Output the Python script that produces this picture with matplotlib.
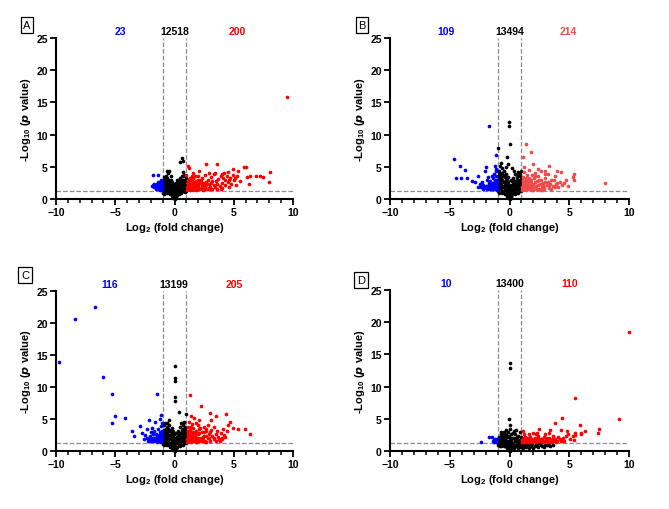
import matplotlib
matplotlib.use('Agg')
import matplotlib.pyplot as plt
import numpy as np

plt.rcParams['font.family'] = ['Liberation Sans', 'DejaVu Sans']
plt.rcParams['mathtext.fontset'] = 'custom'
plt.rcParams['mathtext.rm'] = 'Liberation Sans:bold'
plt.rcParams['mathtext.it'] = 'Liberation Sans:bold:italic'
plt.rcParams['mathtext.bf'] = 'Liberation Sans:bold'

# --- Panel A ---
a_down = [(-1.8, 3.7), (-1.4, 3.7), (-1.9, 2.0), (-1.7, 1.8), (-1.6, 2.2), (-1.5, 2.4), (-1.4, 2.0),
          (-1.3, 1.6), (-1.2, 2.6), (-1.1, 1.9), (-1.2, 1.5), (-1.3, 2.2), (-1.1, 2.3), (-1.5, 1.7),
          (-1.2, 2.0), (-1.1, 1.6), (-1.4, 2.6), (-1.05, 2.8), (-1.6, 1.6), (-1.3, 1.9), (-1.1, 1.4),
          (-1.7, 2.3), (-1.25, 1.4), (-1.05, 2.0), (-1.15, 2.2), (-1.2, 1.7), (-1.35, 1.5), (-1.45, 1.9),
          (-1.05, 1.5), (-1.25, 2.4), (-1.55, 1.9), (-1.15, 3.0), (-1.8, 2.1)]
a_ns = [(-0.95, 1.0), (-0.9, 1.5), (-0.9, 2.0), (-0.85, 2.5), (-0.9, 3.0), (-0.8, 1.2), (-0.75, 1.8),
        (-0.7, 2.3), (-0.7, 2.8), (-0.65, 3.3), (-0.6, 4.3), (-0.55, 4.0), (-0.6, 1.0), (-0.55, 1.5),
        (-0.5, 2.0), (-0.5, 2.6), (-0.45, 3.0), (-0.4, 0.8), (-0.4, 1.3), (-0.35, 1.8), (-0.3, 2.3),
        (-0.3, 2.9), (-0.25, 0.5), (-0.2, 1.0), (-0.2, 1.6), (-0.15, 2.1), (-0.1, 0.2), (-0.1, 0.7),
        (-0.05, 1.3), (0.0, 0.0), (0.0, 0.5), (0.0, 1.0), (0.05, 1.6), (0.1, 0.3), (0.1, 0.8),
        (0.15, 2.0), (0.2, 1.2), (0.25, 0.6), (0.3, 1.7), (0.3, 2.4), (0.35, 1.0), (0.4, 2.8),
        (0.45, 1.4), (0.5, 2.0), (0.5, 3.2), (0.55, 1.0), (0.6, 2.5), (0.6, 3.6), (0.65, 1.6),
        (0.7, 4.2), (0.7, 2.0), (0.75, 3.0), (0.8, 1.3), (0.8, 2.4), (0.85, 3.5), (0.9, 1.8),
        (0.9, 2.8), (0.95, 1.2), (0.95, 3.2), (0.5, 5.8), (0.65, 6.3), (0.7, 5.9), (-0.5, 4.4),
        (-0.3, 3.5), (0.2, 3.0), (0.1, 2.5), (-0.05, 2.3), (-0.75, 3.6), (-0.85, 0.8),
        (-0.95, 1.6), (-0.95, 2.4), (-0.8, 2.1), (-0.8, 2.8), (-0.65, 1.2), (-0.6, 2.0), (-0.6, 2.7),
        (-0.45, 1.6), (-0.45, 2.3), (-0.35, 1.0), (-0.25, 1.3), (-0.25, 2.0), (-0.15, 0.4), (-0.15, 1.7),
        (0.05, 0.2), (0.05, 2.0), (0.15, 1.0), (0.2, 1.7), (0.25, 2.4), (0.35, 1.4), (0.4, 0.7),
        (0.4, 2.0), (0.55, 1.6), (0.65, 2.2), (0.7, 1.2), (0.75, 2.6), (0.85, 1.6), (0.85, 2.2),
        (0.9, 1.1), (0.95, 2.0), (-0.85, 1.2), (-0.7, 1.5), (-0.55, 2.4), (-0.35, 2.6), (0.45, 2.5),
        (0.6, 3.0), (0.8, 3.8), (-0.9, 3.4), (-0.2, 2.7), (0.3, 3.0)]
a_up = [(1.05, 1.4), (1.1, 1.8), (1.1, 2.3), (1.15, 2.8), (1.2, 1.5), (1.25, 2.0), (1.3, 3.2), (1.3, 1.4),
        (1.4, 2.4), (1.45, 1.7), (1.5, 2.9), (1.55, 1.4), (1.6, 2.1), (1.7, 1.6), (1.7, 3.5), (1.75, 2.6),
        (1.8, 1.4), (1.9, 1.9), (1.95, 3.0), (2.0, 2.3), (2.05, 1.5), (2.1, 4.4), (2.15, 2.7), (2.2, 1.7),
        (2.3, 2.1), (2.35, 3.3), (2.4, 1.4), (2.5, 2.5), (2.55, 1.8), (2.6, 3.8), (2.7, 5.4), (2.7, 2.2),
        (2.8, 1.5), (2.85, 2.9), (2.9, 4.1), (3.0, 1.9), (3.05, 2.5), (3.1, 3.4), (3.2, 1.5), (3.3, 3.9),
        (3.35, 2.2), (3.5, 2.8), (3.55, 1.6), (3.6, 5.4), (3.7, 3.1), (3.8, 2.0), (3.9, 3.6), (4.0, 2.5),
        (4.05, 1.7), (4.1, 3.3), (4.2, 4.0), (4.25, 2.2), (4.3, 2.9), (4.4, 3.6), (4.5, 4.2), (4.5, 2.6),
        (4.6, 1.9), (4.7, 3.2), (4.8, 2.4), (4.9, 4.6), (4.9, 3.7), (5.0, 2.9), (5.1, 3.3), (5.2, 2.1),
        (5.3, 3.6), (5.4, 4.3), (5.5, 2.8), (5.9, 4.9), (6.0, 4.9), (6.1, 3.4), (6.3, 2.4), (6.4, 3.6),
        (6.9, 3.6), (7.2, 3.5), (7.5, 3.4), (8.0, 2.7), (8.1, 4.2), (9.5, 15.9), (1.0, 3.8), (1.2, 4.8),
        (1.1, 5.2), (1.6, 4.1), (1.35, 1.6), (1.65, 2.5), (1.85, 2.2), (2.25, 2.6), (2.45, 2.0),
        (3.4, 4.1), (4.6, 3.0), (4.0, 3.9),
        (1.05, 1.9), (1.1, 2.6), (1.15, 1.6), (1.2, 3.1), (1.25, 2.4), (1.35, 1.9), (1.4, 2.8),
        (1.5, 1.5), (1.55, 2.4), (1.6, 3.2), (1.65, 1.8), (1.8, 1.8), (1.8, 2.8), (1.9, 1.5),
        (2.0, 2.0), (2.1, 2.5), (2.2, 3.0), (2.3, 1.5), (2.4, 2.3), (2.6, 1.6), (2.65, 2.6),
        (2.9, 1.7), (2.95, 2.3), (3.1, 1.5), (3.2, 2.8), (3.4, 1.8), (3.6, 2.4), (3.9, 1.5),
        (1.45, 3.6), (2.0, 3.6)]
a_counts = ['23', '12518', '200']
a_count_x = [-4.6, 0.05, 5.3]

# --- Panel B ---
b_down = [(-4.62, 6.2), (-4.14, 5.2), (-3.72, 4.5), (-4.5, 3.3), (-4.1, 3.2), (-3.55, 3.2), (-3.16, 2.8),
          (-2.9, 2.6), (-2.64, 3.5), (-2.5, 2.3), (-2.2, 2.1), (-2.03, 4.3), (-1.95, 5.0), (-1.9, 3.0),
          (-1.8, 3.4), (-1.69, 11.4), (-1.75, 2.5), (-1.5, 2.0), (-1.3, 3.9), (-1.2, 5.1), (-1.1, 6.9),
          (-2.4, 1.9), (-2.1, 1.7), (-1.9, 1.6), (-1.7, 1.9), (-1.6, 2.8), (-1.45, 1.5), (-1.4, 2.5),
          (-1.35, 3.2), (-1.3, 1.7), (-1.25, 2.2), (-1.2, 1.5), (-1.2, 2.8), (-1.15, 3.5), (-1.1, 1.9),
          (-1.1, 4.3), (-1.05, 1.4), (-1.05, 2.5), (-1.05, 3.0), (-1.6, 1.6), (-1.85, 2.0), (-2.6, 1.8),
          (-1.5, 3.6), (-1.15, 4.6), (-2.3, 2.6),
          (-1.05, 1.8), (-1.1, 2.3), (-1.15, 2.0), (-1.2, 2.4), (-1.3, 2.0), (-1.35, 1.5), (-1.4, 2.0),
          (-1.5, 2.4), (-1.55, 1.7), (-1.7, 2.2), (-1.8, 1.5), (-2.0, 2.0), (-2.2, 1.6), (-1.25, 3.0)]
b_ns = [(-0.95, 1.2), (-0.95, 2.0), (-0.9, 2.8), (-0.9, 3.6), (-0.85, 4.4), (-0.8, 5.2), (-0.75, 1.5),
        (-0.7, 2.4), (-0.7, 3.2), (-0.65, 4.0), (-0.6, 4.8), (-0.6, 1.0), (-0.55, 1.9), (-0.5, 2.7),
        (-0.5, 3.5), (-0.45, 4.3), (-0.4, 0.7), (-0.4, 1.4), (-0.35, 2.2), (-0.3, 3.0), (-0.3, 3.9),
        (-0.25, 0.4), (-0.2, 1.0), (-0.2, 1.8), (-0.15, 2.6), (-0.1, 0.2), (-0.1, 3.4), (-0.05, 0.8),
        (-0.05, 1.5), (0.0, 0.0), (0.0, 0.5), (0.0, 2.2), (0.05, 1.1), (0.1, 0.3), (0.1, 1.8),
        (0.15, 2.9), (0.2, 0.7), (0.25, 1.4), (0.3, 2.3), (0.3, 3.2), (0.35, 0.9), (0.4, 1.8),
        (0.45, 2.8), (0.5, 3.9), (0.5, 1.2), (0.55, 2.2), (0.6, 3.0), (0.65, 1.5), (0.7, 2.5),
        (0.7, 3.7), (0.75, 4.2), (0.8, 1.3), (0.8, 2.0), (0.85, 3.0), (0.9, 3.9), (0.9, 1.6),
        (0.95, 2.5), (0.95, 4.3), (-0.04, 11.9), (-0.04, 11.3), (0.0, 8.5), (-0.94, 7.9), (-0.2, 6.5),
        (-0.1, 5.4), (-0.7, 5.6), (0.2, 4.8), (-0.3, 4.9), (0.35, 4.3),
        (-0.95, 1.6), (-0.9, 2.4), (-0.85, 3.2), (-0.85, 1.0), (-0.8, 1.8), (-0.75, 2.8), (-0.75, 3.8),
        (-0.65, 1.3), (-0.65, 2.0), (-0.6, 3.0), (-0.55, 3.8), (-0.45, 1.0), (-0.45, 1.8), (-0.4, 2.6),
        (-0.35, 3.4), (-0.25, 1.4), (-0.25, 2.2), (-0.15, 0.6), (-0.15, 1.2), (0.05, 0.3), (0.05, 1.8),
        (0.15, 0.5), (0.15, 1.3), (0.2, 2.2), (0.35, 1.5), (0.4, 2.4), (0.45, 0.8), (0.55, 1.7),
        (0.6, 2.6), (0.65, 3.4), (0.75, 1.0), (0.75, 1.8), (0.8, 2.8), (0.85, 3.6), (0.9, 2.2),
        (0.95, 1.2), (0.95, 3.4), (-0.9, 4.0), (-0.2, 3.0), (0.25, 2.8)]
b_up = [(1.38, 8.6), (1.83, 7.3), (1.16, 6.5), (2.0, 5.5), (1.6, 4.5), (2.97, 4.4), (3.2, 3.9), (4.0, 4.35),
        (4.3, 4.2), (5.4, 3.9), (5.3, 3.4), (5.4, 2.9), (8.0, 2.5), (4.7, 3.0), (3.8, 3.6), (3.5, 2.9),
        (1.05, 1.4), (1.1, 2.0), (1.1, 2.7), (1.15, 3.4), (1.2, 4.2), (1.25, 1.6), (1.3, 2.3), (1.35, 3.0),
        (1.4, 1.4), (1.45, 3.8), (1.5, 1.9), (1.55, 2.6), (1.6, 3.3), (1.7, 1.5), (1.75, 2.2), (1.8, 2.9),
        (1.85, 3.7), (1.9, 1.7), (2.0, 2.4), (2.05, 3.2), (2.1, 4.1), (2.2, 1.5), (2.25, 2.0), (2.3, 2.8),
        (2.4, 3.5), (2.5, 1.6), (2.55, 2.3), (2.6, 3.0), (2.7, 1.9), (2.8, 2.5), (2.9, 1.5), (3.0, 3.3),
        (3.1, 2.1), (3.2, 2.7), (3.3, 1.7), (3.4, 2.4), (3.6, 2.0), (3.7, 3.0), (3.9, 2.3), (4.1, 1.8),
        (4.2, 2.7), (4.4, 2.1), (4.6, 2.5), (4.9, 2.0), (1.2, 5.0), (2.6, 4.3), (3.3, 5.1), (2.35, 4.6),
        (3.0, 3.9), (1.95, 1.4), (2.75, 1.4),
        (1.05, 1.8), (1.1, 2.4), (1.15, 3.0), (1.2, 1.5), (1.25, 2.0), (1.3, 2.7), (1.4, 1.7), (1.4, 3.3),
        (1.5, 2.2), (1.6, 1.6), (1.6, 2.8), (1.7, 2.0), (1.8, 2.5), (1.9, 1.4), (2.0, 1.9), (2.1, 2.7),
        (2.15, 3.6), (2.3, 1.6), (2.4, 2.2), (2.5, 2.9), (2.6, 1.4), (2.7, 2.4), (2.9, 2.0), (3.0, 2.7),
        (3.3, 2.1), (3.5, 1.5), (3.8, 1.8), (4.0, 2.5)]
b_counts = ['109', '13494', '214']
b_count_x = [-5.3, 0.0, 4.95]

# --- Panel C ---
c_down = [(-9.78, 13.85), (-8.37, 20.6), (-6.71, 22.5), (-6.04, 11.5), (-5.25, 8.87), (-5.06, 5.5),
          (-5.3, 4.4), (-4.16, 5.1), (-1.49, 8.87), (-3.57, 3.2), (-3.4, 2.3), (-2.95, 3.9), (-2.75, 2.85),
          (-2.6, 1.8), (-2.36, 3.37), (-2.16, 4.77), (-2.0, 2.96), (-1.63, 4.5), (-1.15, 5.55), (-1.24, 5.0),
          (-2.3, 2.0), (-2.2, 1.6), (-2.05, 2.4), (-1.95, 1.8), (-1.85, 2.6), (-1.8, 1.5), (-1.7, 3.2),
          (-1.7, 2.1), (-1.6, 1.7), (-1.55, 2.7), (-1.5, 1.4), (-1.45, 2.2), (-1.4, 3.4), (-1.35, 1.8),
          (-1.3, 2.5), (-1.25, 1.5), (-1.2, 3.0), (-1.2, 2.0), (-1.15, 3.9), (-1.1, 1.6), (-1.1, 2.6),
          (-1.05, 4.4), (-1.05, 2.2), (-1.05, 3.2), (-1.9, 3.6), (-2.5, 2.5),
          (-1.05, 1.8), (-1.1, 2.3), (-1.15, 1.4), (-1.2, 2.4), (-1.3, 2.0), (-1.35, 1.5), (-1.4, 2.0),
          (-1.5, 2.4), (-1.55, 1.7), (-1.7, 1.5), (-1.8, 2.0), (-2.0, 1.6), (-2.1, 1.9)]
c_ns = [(-0.95, 1.1), (-0.95, 1.9), (-0.9, 2.6), (-0.9, 3.3), (-0.85, 4.0), (-0.8, 1.4), (-0.75, 2.2),
        (-0.7, 3.0), (-0.65, 3.7), (-0.6, 0.9), (-0.55, 1.7), (-0.5, 2.5), (-0.5, 3.3), (-0.45, 4.0),
        (-0.4, 0.6), (-0.4, 1.3), (-0.35, 2.1), (-0.3, 2.9), (-0.25, 0.4), (-0.25, 3.6), (-0.2, 1.0),
        (-0.2, 1.7), (-0.15, 2.5), (-0.1, 0.2), (-0.1, 3.2), (-0.05, 0.8), (-0.05, 1.5), (0.0, 0.0),
        (0.0, 0.5), (0.0, 2.1), (0.05, 1.1), (0.1, 0.3), (0.1, 1.8), (0.15, 2.8), (0.2, 0.7), (0.25, 1.4),
        (0.3, 2.3), (0.3, 3.2), (0.35, 0.9), (0.4, 1.8), (0.45, 2.8), (0.5, 3.7), (0.5, 1.2), (0.55, 2.2),
        (0.6, 3.0), (0.65, 1.5), (0.7, 2.5), (0.7, 3.5), (0.75, 4.0), (0.8, 1.3), (0.8, 2.0), (0.85, 3.0),
        (0.9, 3.7), (0.9, 1.6), (0.95, 2.5), (0.0, 13.3), (0.0, 11.46), (0.0, 10.9), (0.0, 8.45),
        (0.0, 7.8), (0.37, 6.1), (0.93, 5.8), (-0.48, 4.8), (-0.8, 4.4), (0.53, 4.4), (0.8, 4.6),
        (-0.65, 4.4), (0.7, 4.2),
        (-0.95, 1.5), (-0.9, 2.2), (-0.9, 3.0), (-0.85, 1.0), (-0.8, 1.8), (-0.75, 2.6), (-0.75, 3.4),
        (-0.65, 1.3), (-0.65, 2.0), (-0.6, 2.8), (-0.55, 3.4), (-0.45, 1.0), (-0.45, 1.8), (-0.4, 2.5),
        (-0.35, 3.2), (-0.25, 1.4), (-0.25, 2.2), (-0.15, 0.6), (-0.15, 1.2), (0.05, 0.3), (0.05, 1.8),
        (0.15, 0.5), (0.15, 1.3), (0.2, 2.2), (0.35, 1.5), (0.4, 2.4), (0.45, 0.8), (0.55, 1.7),
        (0.6, 2.6), (0.65, 3.3), (0.75, 1.0), (0.75, 1.8), (0.8, 2.7), (0.85, 3.5), (0.9, 2.2),
        (0.95, 1.2), (0.95, 3.2), (-0.2, 3.0), (0.25, 2.8), (-0.05, 2.6)]
c_up = [(1.32, 8.7), (2.25, 7.1), (2.98, 5.96), (3.48, 5.4), (4.33, 5.8), (4.66, 4.5), (4.94, 3.58),
        (5.4, 3.48), (5.93, 3.48), (6.4, 2.7), (4.41, 3.2), (4.0, 2.1), (3.76, 1.92), (3.34, 3.7),
        (3.06, 4.77), (2.7, 3.5), (4.5, 4.0), (1.05, 1.4), (1.1, 2.1), (1.1, 2.9), (1.15, 3.8), (1.2, 4.6),
        (1.25, 1.7), (1.3, 2.5), (1.35, 3.3), (1.4, 1.4), (1.45, 4.2), (1.5, 2.0), (1.55, 2.8), (1.6, 3.6),
        (1.65, 5.1), (1.7, 1.6), (1.75, 2.3), (1.8, 3.1), (1.9, 1.8), (1.95, 4.0), (2.0, 2.6), (2.05, 3.4),
        (2.1, 1.5), (2.2, 2.1), (2.3, 2.9), (2.4, 1.7), (2.45, 3.8), (2.5, 2.4), (2.6, 1.5), (2.65, 3.1),
        (2.8, 2.0), (2.9, 2.7), (3.0, 1.6), (3.1, 3.3), (3.2, 2.3), (3.3, 1.8), (3.5, 2.6), (3.6, 3.1),
        (3.7, 2.2), (3.9, 2.8), (4.1, 3.5), (4.2, 2.5), (2.1, 4.8), (1.4, 5.4), (1.8, 4.4), (2.8, 4.0),
        (3.9, 1.9), (4.05, 1.95), (1.85, 1.4), (2.55, 1.35),
        (1.05, 1.8), (1.1, 2.5), (1.15, 3.2), (1.2, 1.5), (1.25, 2.1), (1.3, 2.9), (1.4, 1.8), (1.4, 3.7),
        (1.5, 2.4), (1.6, 1.6), (1.6, 3.0), (1.7, 2.0), (1.8, 2.6), (1.9, 1.4), (2.0, 2.0), (2.1, 2.8),
        (2.15, 3.6), (2.3, 1.6), (2.4, 2.2), (2.5, 3.0), (2.7, 1.4), (2.7, 2.4), (2.9, 2.0), (3.0, 2.9),
        (3.3, 2.1), (3.5, 1.5), (3.8, 1.6), (4.3, 2.2)]
c_counts = ['116', '13199', '205']
c_count_x = [-5.45, -0.05, 5.05]

# --- Panel D ---
d_down = [(-2.35, 1.4), (-1.73, 2.1), (-1.45, 2.2), (-1.3, 1.7), (-1.15, 1.4), (-1.4, 1.55), (-1.2, 1.9),
          (-1.1, 1.6), (-1.3, 1.4), (-1.05, 1.8)]
d_ns = [(-0.95, 0.9), (-0.9, 1.5), (-0.85, 2.1), (-0.8, 1.2), (-0.75, 2.6), (-0.7, 0.8), (-0.65, 1.8),
        (-0.6, 2.4), (-0.55, 1.1), (-0.5, 3.0), (-0.5, 1.6), (-0.45, 0.7), (-0.4, 2.1), (-0.35, 1.2),
        (-0.3, 2.6), (-0.25, 0.5), (-0.2, 1.6), (-0.2, 2.2), (-0.15, 0.9), (-0.1, 0.2), (-0.1, 2.9),
        (-0.05, 1.3), (0.0, 0.0), (0.0, 0.6), (0.0, 2.0), (0.05, 1.0), (0.1, 0.3), (0.1, 1.6), (0.15, 2.6),
        (0.2, 0.7), (0.25, 1.3), (0.3, 2.0), (0.35, 0.5), (0.4, 1.0), (0.45, 1.7), (0.5, 2.6), (0.55, 0.7),
        (0.6, 1.3), (0.65, 2.1), (0.7, 0.5), (0.75, 1.0), (0.8, 1.7), (0.85, 2.9), (0.9, 0.6), (0.95, 1.2),
        (1.0, 2.2), (1.1, 0.5), (1.2, 0.9), (1.35, 0.6), (1.5, 1.0), (1.6, 0.5), (1.8, 0.8), (2.0, 0.5),
        (2.2, 1.0), (2.4, 0.6), (2.6, 0.9), (2.9, 0.6), (3.1, 0.9), (3.4, 0.7), (3.6, 0.9), (1.3, 1.2),
        (1.7, 1.2), (2.5, 1.2), (0.03, 13.6), (0.03, 12.9), (-0.03, 5.0), (0.03, 4.1), (0.0, 3.46),
        (-0.3, 3.2), (0.4, 3.1), (0.55, 3.3), (-0.7, 3.0),
        (-0.95, 1.3), (-0.9, 0.9), (-0.85, 1.7), (-0.8, 0.7), (-0.75, 1.4), (-0.7, 2.1), (-0.65, 1.0),
        (-0.6, 1.6), (-0.55, 2.2), (-0.45, 1.2), (-0.4, 1.7), (-0.35, 0.7), (-0.3, 2.2), (-0.25, 1.1),
        (-0.15, 1.5), (-0.05, 0.6), (-0.05, 2.4), (0.05, 1.5), (0.15, 0.6), (0.2, 1.2), (0.25, 2.0),
        (0.35, 1.0), (0.45, 0.9), (0.5, 1.5), (0.55, 2.0), (0.65, 1.0), (0.7, 1.5), (0.8, 1.1),
        (0.85, 0.8), (0.9, 1.6), (1.0, 0.7), (1.05, 1.1), (1.15, 0.7), (1.4, 0.9), (1.7, 0.8),
        (1.9, 1.1), (2.1, 0.7), (2.3, 0.9), (2.7, 0.8), (3.0, 1.0), (3.3, 0.9), (0.3, 2.8),
        (-0.5, 2.6), (0.75, 2.4)]
d_up = [(9.97, 18.5), (5.45, 8.3), (9.2, 4.96), (4.4, 5.1), (3.8, 4.4), (5.9, 4.1), (6.3, 3.05), (5.95, 2.8),
        (7.4, 2.8), (7.5, 3.46), (5.3, 2.4), (5.4, 1.65), (4.8, 3.05), (4.3, 3.3), (3.4, 3.2), (3.27, 2.8),
        (2.43, 3.36), (2.3, 2.85), (2.0, 2.8), (1.17, 3.15), (1.25, 2.6), (1.05, 1.4), (1.1, 1.9), (1.2, 1.5),
        (1.3, 2.2), (1.4, 1.4), (1.5, 1.8), (1.6, 1.5), (1.7, 2.1), (1.8, 1.4), (1.9, 1.7), (2.0, 1.5),
        (2.1, 2.0), (2.2, 1.4), (2.3, 1.7), (2.4, 2.3), (2.5, 1.5), (2.6, 1.9), (2.7, 1.4), (2.8, 1.6),
        (2.9, 2.2), (3.0, 1.5), (3.1, 1.8), (3.2, 1.4), (3.3, 2.0), (3.5, 1.6), (3.6, 2.4), (3.7, 1.5),
        (3.8, 1.9), (4.0, 1.6), (4.1, 2.2), (4.3, 1.5), (4.5, 2.0), (4.6, 1.5), (4.9, 2.6), (5.1, 1.9),
        (5.5, 2.8), (5.5, 2.5), (6.0, 2.7), (4.7, 2.3), (2.2, 2.6), (3.0, 2.6), (1.6, 2.7),
        (1.05, 1.7), (1.15, 1.4), (1.2, 2.0), (1.35, 1.6), (1.45, 2.0), (1.55, 1.4), (1.65, 1.7),
        (1.75, 1.5), (1.85, 1.9), (1.95, 1.4), (2.05, 1.7), (2.25, 1.5), (2.35, 2.0), (2.55, 1.7),
        (2.75, 1.9), (2.85, 1.4), (3.05, 2.0), (3.25, 1.6), (3.45, 1.4), (3.55, 1.9), (3.9, 1.4),
        (4.2, 1.8), (4.4, 1.6)]
d_counts = ['10', '13400', '110']
d_count_x = [-5.3, 0.0, 5.0]


def volcano(ax, down, ns, up, counts, count_x, up_color):
    for pts, col in ((ns, 'black'), (down, '#0000ff'), (up, up_color)):
        pts = np.array(pts)
        ax.scatter(pts[:, 0], pts[:, 1], s=7, c=col, linewidths=0, clip_on=False, zorder=3)
    # thresholds
    ax.plot([-1, -1], [0, 25], ls='--', c='#8c8c8c', lw=0.9, zorder=2, clip_on=False)
    ax.plot([1, 1], [0, 25], ls='--', c='#8c8c8c', lw=0.9, zorder=2, clip_on=False)
    ax.axhline(1.3, ls='--', c='#8c8c8c', lw=0.9, zorder=2)
    ax.set_xlim(-10, 10)
    ax.set_ylim(0, 25)
    ax.set_xticks([-10, -5, 0, 5, 10])
    ax.set_xticks(range(-10, 11), minor=True)
    ax.set_yticks([0, 5, 10, 15, 20, 25])
    for s in ('top', 'right'):
        ax.spines[s].set_visible(False)
    for s in ('left', 'bottom'):
        ax.spines[s].set_linewidth(1.5)
    ax.tick_params(which='major', length=4, width=1.3, labelsize=7.5, pad=2)
    ax.tick_params(which='minor', length=3, width=1.1)
    for lab in ax.get_xticklabels() + ax.get_yticklabels():
        lab.set_fontweight('bold')
    ax.set_xlabel('Log$_\\mathbf{2}$ (fold change)', fontsize=8, fontweight='bold', labelpad=2)
    ax.set_ylabel('-Log$_\\mathbf{10}$ ($\\boldsymbol{p}$ value)', fontsize=8, fontweight='bold', labelpad=2)
    colors = ['#0000ff', 'black', up_color]
    for txt, x, col in zip(counts, count_x, colors):
        ax.text(x, 26.1, txt, color=col, fontsize=7.5, fontweight='bold', ha='center', va='center',
                clip_on=False)


fig = plt.figure(figsize=(6.69, 5.10), dpi=100)
W, H = 669, 510
boxes = {'A': (56, 39, 293, 200), 'B': (390, 39, 629, 200),
         'C': (56, 292, 293, 452), 'D': (390, 291, 629, 452)}
panels = {'A': (a_down, a_ns, a_up, a_counts, a_count_x, '#ff0000'),
          'B': (b_down, b_ns, b_up, b_counts, b_count_x, '#f04a4a'),
          'C': (c_down, c_ns, c_up, c_counts, c_count_x, '#ff0000'),
          'D': (d_down, d_ns, d_up, d_counts, d_count_x, '#ff0000')}
letter_pos = {'A': (27, 26), 'B': (362, 26), 'C': (25, 276), 'D': (361, 281)}

for key, (x0, y0, x1, y1) in boxes.items():
    ax = fig.add_axes([x0 / W, 1 - y1 / H, (x1 - x0) / W, (y1 - y0) / H])
    volcano(ax, *panels[key])
    lx, ly = letter_pos[key]
    fig.text(lx / W, 1 - ly / H, key, fontsize=8, ha='center', va='center',
             bbox=dict(boxstyle='square,pad=0.25', fc='white', ec='black', lw=0.9))

fig.savefig('out.png', dpi=100)
